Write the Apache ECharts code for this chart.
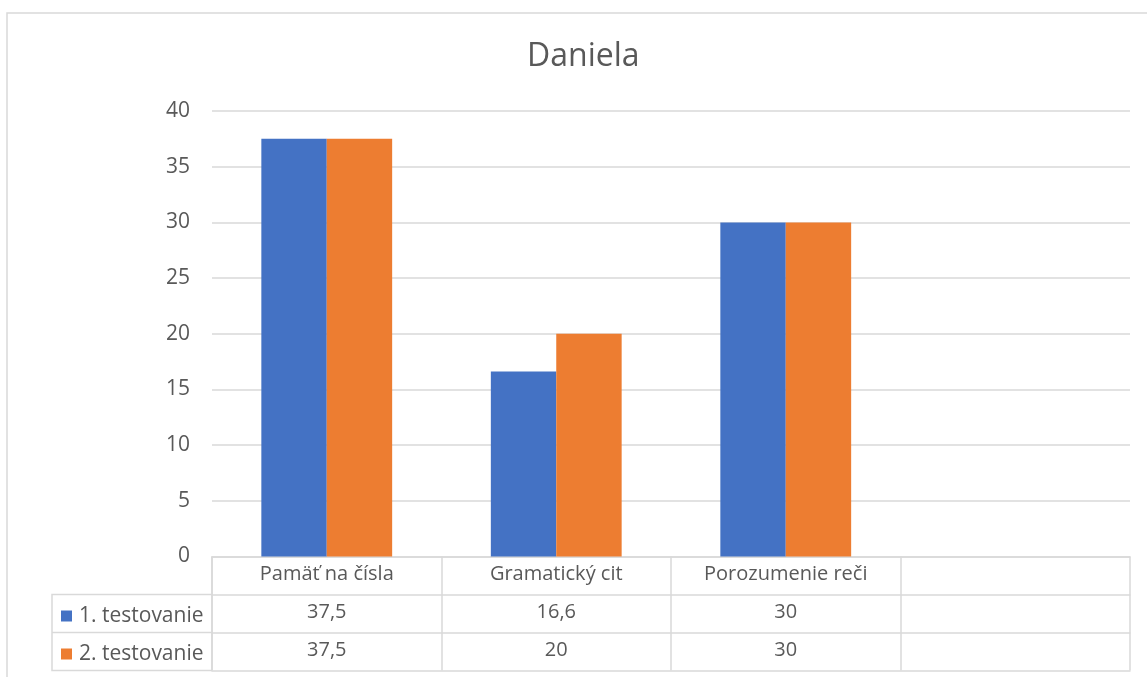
<!DOCTYPE html>
<html>
<head>
<meta charset="utf-8">
<script src="https://cdn.jsdelivr.net/npm/echarts@6/dist/echarts.min.js"></script>
<style>
  html, body { margin: 0; padding: 0; background: #ffffff; }
  #chart { width: 1147px; height: 677px; }
</style>
</head>
<body>
<div id="chart"></div>
<script>
// Chart data
const titleText = 'Daniela';
const categories = ['Pamäť na čísla', 'Gramatický cit', 'Porozumenie reči', ''];
const seriesNames = ['1. testovanie', '2. testovanie'];
const test1 = [37.5, 16.6, 30, null];
const test2 = [37.5, 20, 30, null];
const yTicks = [0, 5, 10, 15, 20, 25, 30, 35, 40];

const colors = ['#4472C4', '#ED7D31'];
const textColor = '#595959';
const lineColor = '#d9d9d9';
const font = '"Open Sans", "Noto Sans", sans-serif';

// Layout of the plot area and the data table under it
const gridLeft = 212, gridRight = 17, gridTop = 111, gridBottom = 120.5;
const rowH = 38;
const tableLeft = 52;
const H = 677;
const axisY = H - gridBottom;

// Values in the table use a decimal comma
const fmt = v => (v === null || v === undefined) ? '' : String(v).replace('.', ',');

function tableAxis(data, offset, withTicks) {
  return {
    type: 'category',
    gridIndex: 0,
    position: 'bottom',
    offset: offset,
    data: data,
    boundaryGap: true,
    axisLine: { show: true, lineStyle: { color: lineColor, width: 1.5 } },
    axisTick: { show: withTicks, length: rowH, interval: 0, lineStyle: { color: lineColor, width: 1.5 } },
    axisLabel: {
      show: withTicks, interval: 0, margin: 8,
      color: textColor, fontSize: 20, fontFamily: font
    },
    splitLine: { show: false }
  };
}

const chart = echarts.init(document.getElementById('chart'), null, { renderer: 'canvas' });

const option = {
  backgroundColor: '#ffffff',
  animation: false,
  title: {
    text: titleText,
    left: 522,
    top: 36,
    textStyle: { color: textColor, fontSize: 32, fontWeight: 'normal', fontFamily: font }
  },
  legend: seriesNames.map((name, i) => ({
    data: [name],
    orient: 'horizontal',
    left: 56,
    top: axisY + rowH * (i + 1) + 6,
    itemWidth: 11,
    itemHeight: 11,
    icon: 'rect',
    selectedMode: false,
    textStyle: { color: textColor, fontSize: 21, fontFamily: font, padding: [0, 0, 0, 2] }
  })),
  grid: { left: gridLeft, right: gridRight, top: gridTop, bottom: gridBottom, containLabel: false },
  xAxis: [
    tableAxis(categories, 0, true),
    tableAxis(test1.map(fmt), rowH, true),
    tableAxis(test2.map(fmt), rowH * 2, true),
    tableAxis(categories.map(() => ''), rowH * 3, false)
  ],
  yAxis: {
    type: 'value',
    min: yTicks[0],
    max: yTicks[yTicks.length - 1],
    interval: yTicks[1] - yTicks[0],
    axisLine: { show: false },
    axisTick: { show: false },
    axisLabel: { color: textColor, fontSize: 21, fontFamily: font, margin: 22 },
    splitLine: { show: true, lineStyle: { color: lineColor, width: 1.5 } }
  },
  series: [
    {
      name: seriesNames[0], type: 'bar', xAxisIndex: 0,
      data: test1, itemStyle: { color: colors[0] },
      barGap: '0%', barCategoryGap: '43%'
    },
    {
      name: seriesNames[1], type: 'bar', xAxisIndex: 0,
      data: test2, itemStyle: { color: colors[1] },
      barGap: '0%', barCategoryGap: '43%'
    }
  ],
  graphic: [
    // outer chart frame
    {
      type: 'rect', silent: true,
      shape: { x: 7, y: 13, width: 1160, height: 700 },
      style: { fill: null, stroke: lineColor, lineWidth: 1.5 }
    },
    // left column of the data table (series names)
    {
      type: 'polyline', silent: true,
      shape: { points: [[gridLeft, axisY + rowH], [tableLeft, axisY + rowH], [tableLeft, axisY + rowH * 3], [gridLeft, axisY + rowH * 3]] },
      style: { fill: null, stroke: lineColor, lineWidth: 1.5 }
    },
    {
      type: 'line', silent: true,
      shape: { x1: tableLeft, y1: axisY + rowH * 2, x2: gridLeft, y2: axisY + rowH * 2 },
      style: { stroke: lineColor, lineWidth: 1.5 }
    },
    {
      type: 'line', silent: true,
      shape: { x1: gridLeft, y1: axisY, x2: gridLeft, y2: axisY + rowH * 3 },
      style: { stroke: lineColor, lineWidth: 1.5 }
    }
  ]
};

chart.setOption(option);
</script>
</body>
</html>
